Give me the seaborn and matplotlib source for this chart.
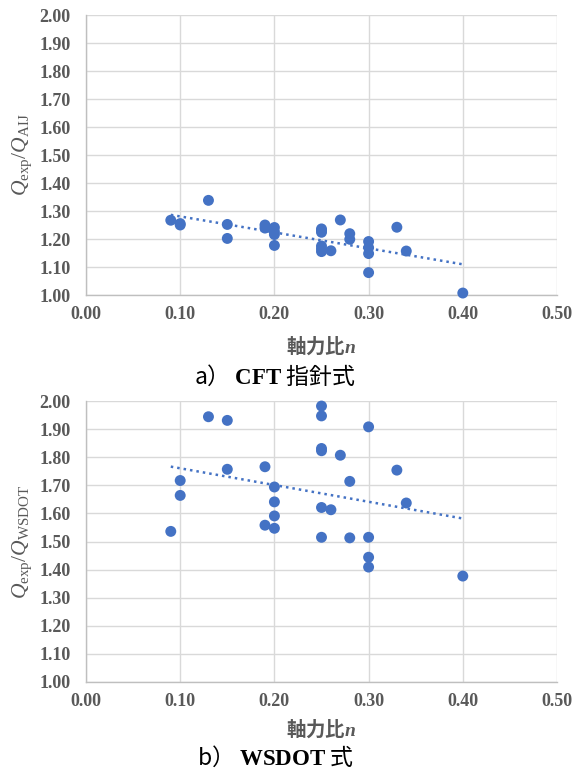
import numpy as np
import pandas as pd
import matplotlib
matplotlib.use('Agg')
import matplotlib.pyplot as plt
import seaborn as sns

# --- data ---
n_a = [0.09, 0.10, 0.10, 0.13, 0.15, 0.15, 0.19, 0.19, 0.20, 0.20, 0.20, 0.20,
       0.25, 0.25, 0.25, 0.25, 0.25, 0.25, 0.26, 0.27, 0.28, 0.28,
       0.30, 0.30, 0.30, 0.30, 0.33, 0.34, 0.40]
q_aij = [1.267, 1.255, 1.250, 1.338, 1.252, 1.202, 1.250, 1.239, 1.241, 1.226, 1.216, 1.177,
         1.236, 1.230, 1.224, 1.175, 1.165, 1.155, 1.158, 1.268, 1.219, 1.199,
         1.191, 1.169, 1.148, 1.080, 1.242, 1.157, 1.007]

n_b = [0.09, 0.10, 0.10, 0.13, 0.15, 0.15, 0.19, 0.19, 0.20, 0.20, 0.20, 0.20,
       0.25, 0.25, 0.25, 0.25, 0.25, 0.25, 0.26, 0.27, 0.28, 0.28,
       0.30, 0.30, 0.30, 0.30, 0.33, 0.34, 0.40]
q_wsdot = [1.536, 1.717, 1.664, 1.944, 1.931, 1.757, 1.766, 1.558, 1.694, 1.641, 1.591, 1.547,
           1.982, 1.947, 1.831, 1.823, 1.621, 1.515, 1.613, 1.807, 1.714, 1.513,
           1.908, 1.515, 1.444, 1.409, 1.754, 1.637, 1.377]

yticks = np.round(np.arange(1.0, 2.001, 0.1), 2)
xticks = np.round(np.arange(0.0, 0.501, 0.1), 2)

ylabels = [r'$Q_{\mathrm{exp}}/Q_{\mathrm{AIJ}}$', r'$Q_{\mathrm{exp}}/Q_{\mathrm{WSDOT}}$']
captions = [r'a） $\mathbf{CFT}$ 指針式', r'b） $\mathbf{WSDOT}$ 式']

# --- style ---
sns.set_style('white')
plt.rcParams['font.family'] = ['Noto Sans CJK JP', 'DejaVu Sans']
plt.rcParams['mathtext.fontset'] = 'custom'
plt.rcParams['mathtext.rm'] = 'Liberation Serif'
plt.rcParams['mathtext.it'] = 'Liberation Serif:italic'
plt.rcParams['mathtext.bf'] = 'Liberation Serif:bold'
plt.rcParams['mathtext.bfit'] = 'Liberation Serif:italic:bold'

blue = '#4472C4'
grey = '#595959'
grid = '#D9D9D9'

fig = plt.figure(figsize=(5.85, 7.78), dpi=100)
ax_a = fig.add_axes([86/585, 1 - 295/778, 471/585, 280/778])
ax_b = fig.add_axes([86/585, 1 - 682/778, 471/585, 281/778])

panels = [(ax_a, n_a, q_aij, 346), (ax_b, n_b, q_wsdot, 729)]

for i, (ax, x, y, xlab_y) in enumerate(panels):
    df = pd.DataFrame({'n': x, 'q': y})
    # linear trendline (dotted), then the points on top
    sns.regplot(data=df, x='n', y='q', ax=ax, scatter=False, ci=None,
                line_kws=dict(color=blue, ls=(0, (1, 1.6)), lw=1.8))
    sns.scatterplot(data=df, x='n', y='q', ax=ax, color=blue, s=62,
                    edgecolor='none', zorder=3, clip_on=False)

    ax.set_xlim(0, 0.5)
    ax.set_ylim(1.0, 2.0)
    ax.set_xticks(xticks)
    ax.set_yticks(yticks)
    ax.set_xticklabels([f'{v:.2f}' for v in xticks], fontfamily='Liberation Serif',
                       fontweight='bold', fontsize=13, color=grey)
    ax.set_yticklabels([f'{v:.2f}' for v in yticks], fontfamily='Liberation Serif',
                       fontweight='bold', fontsize=13, color=grey)
    ax.tick_params(axis='y', length=0, pad=11)
    ax.tick_params(axis='x', length=0, pad=8)
    ax.grid(True, color=grid, lw=1)
    ax.set_axisbelow(True)
    for s in ['top', 'right']:
        ax.spines[s].set_visible(False)
    for s in ['left', 'bottom']:
        ax.spines[s].set_color('#BFBFBF')
        ax.spines[s].set_linewidth(1)

    ax.set_ylabel(ylabels[i], fontsize=15.5, color=grey)
    ax.yaxis.set_label_coords(-52/471, 0.5)
    ax.set_xlabel(r'軸力比$\mathbfit{n}$', fontsize=14, color=grey, fontweight='bold', va='center')
    bottom_px = 295 if i == 0 else 682
    ax.xaxis.set_label_coords(0.5, -(xlab_y - bottom_px) / 281)

fig.text(275/585, 1 - 376/778, captions[0], fontsize=16.5, ha='center', va='center', color='black')
fig.text(275/585, 1 - 757/778, captions[1], fontsize=16.5, ha='center', va='center', color='black')

fig.savefig('out.png', dpi=100)
